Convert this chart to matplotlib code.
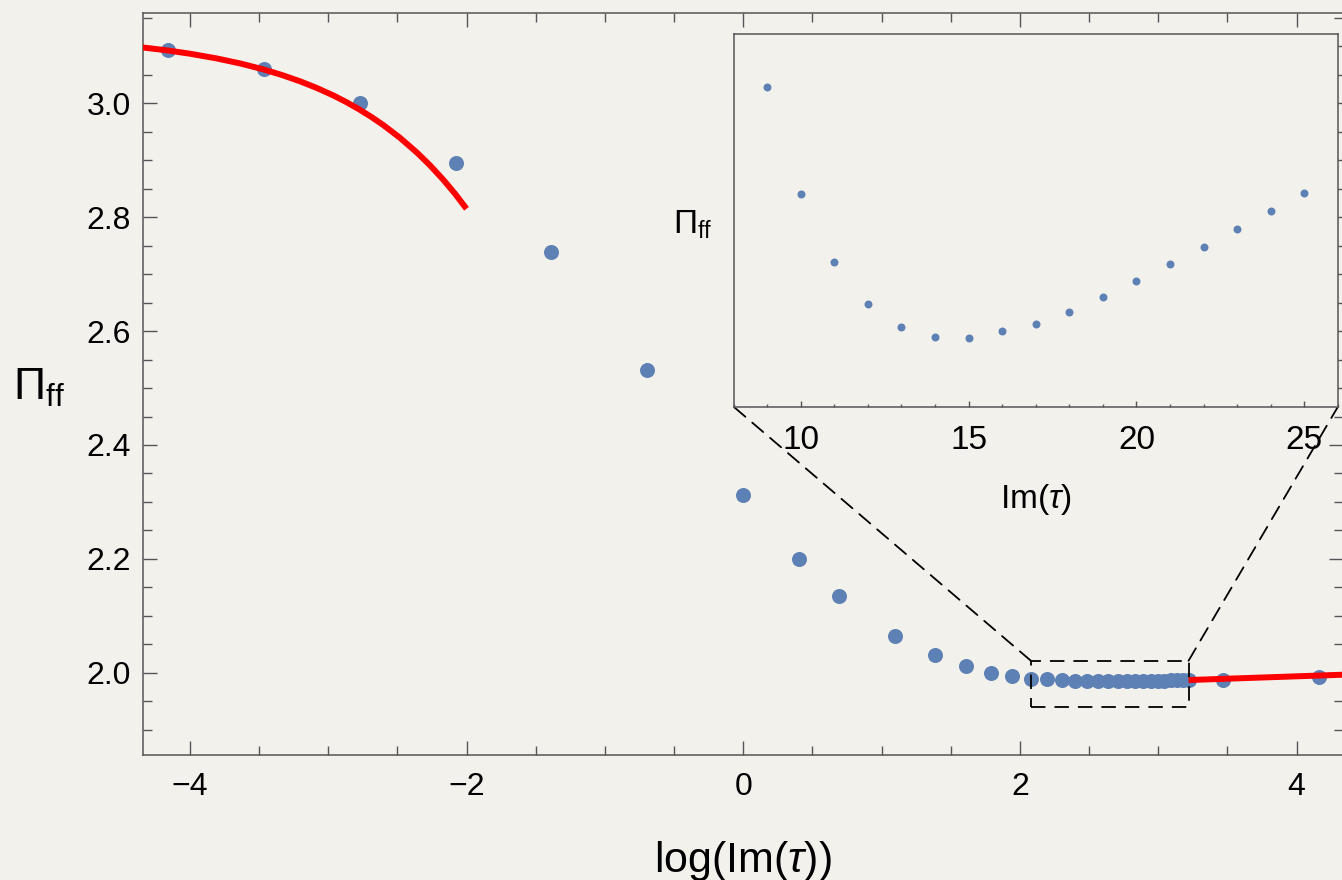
import numpy as np
import matplotlib
matplotlib.use('Agg')
import matplotlib.pyplot as plt
from matplotlib.patches import Rectangle, ConnectionPatch
from matplotlib.ticker import MultipleLocator

plt.rcParams['font.family'] = ['Liberation Sans', 'DejaVu Sans']
plt.rcParams['mathtext.fontset'] = 'custom'
plt.rcParams['mathtext.rm'] = 'Liberation Sans'
plt.rcParams['mathtext.it'] = 'Liberation Sans:italic'
plt.rcParams['mathtext.bf'] = 'Liberation Sans:bold'

# Pi_ff against Im(tau)
tau_small = [1/64, 1/32, 1/16, 1/8, 1/4, 1/2, 1, 1.5, 2, 3, 4, 5, 6, 7, 8]
pi_small = [3.094, 3.060, 3.000, 2.896, 2.739, 2.532, 2.312, 2.200, 2.135,
            2.064, 2.031, 2.012, 1.999, 1.994, 1.9895]

tau_mid = [9, 10, 11, 12, 13, 14, 15, 16, 17, 18, 19, 20, 21, 22, 23, 24, 25]
pi_mid = [1.98916, 1.98742, 1.98633, 1.98566, 1.98529, 1.98512, 1.98510,
          1.98522, 1.98533, 1.98553, 1.98577, 1.98603, 1.98630, 1.98658,
          1.98686, 1.98715, 1.98744]

tau_large = [32, 64]
pi_large = [1.987, 1.993]

# red asymptotic curves (log(Im tau), Pi_ff)
fit_small_x = [-4.34, -4.167, -4.0, -3.806, -3.635, -3.469, -3.331, -3.203,
               -3.085, -2.962, -2.868, -2.776, -2.690, -2.601, -2.480,
               -2.359, -2.263, -2.167, -2.082, -2.0]
fit_small_y = [3.0981, 3.0931, 3.0872, 3.0789, 3.0700, 3.0597, 3.0495,
               3.0387, 3.0273, 3.0138, 3.0021, 2.9895, 2.9765, 2.9618,
               2.9393, 2.9137, 2.8909, 2.8656, 2.8410, 2.8148]
fit_large_x = [np.log(25), 4.34]
fit_large_y = [1.9872, 1.9966]

# zoom box
box_tau = (8, 25)
box_pi = (1.9403, 2.0211)

bg = '#f3f1ec'
dot = '#5e81b5'
spine = '#555555'

fig = plt.figure(figsize=(13.42, 8.8), dpi=100, facecolor=bg)
ax = fig.add_axes([0.1068, 0.1420, 0.8940, 0.8428])
ax.set_facecolor(bg)

all_tau = tau_small + tau_mid + tau_large
all_pi = pi_small + pi_mid + pi_large
ax.scatter(np.log(all_tau), all_pi, s=117, color=dot, lw=0, zorder=3)
ax.plot(fit_small_x, fit_small_y, color='red', lw=4.3,
        solid_capstyle='butt', solid_joinstyle='round', zorder=4)
ax.plot(fit_large_x, fit_large_y, color='red', lw=4.3,
        solid_capstyle='butt', zorder=4)

bx0, bx1 = np.log(box_tau[0]), np.log(box_tau[1])
ax.add_patch(Rectangle((bx0, box_pi[0]), bx1 - bx0, box_pi[1] - box_pi[0],
                       fill=False, ec='black', lw=1.3, ls=(0, (8, 5)), zorder=5))

ax.set_xlim(-4.336, 4.336)
ax.set_ylim(1.8555, 3.158)
ax.xaxis.set_major_locator(MultipleLocator(2))
ax.xaxis.set_minor_locator(MultipleLocator(0.5))
ax.yaxis.set_major_locator(MultipleLocator(0.2))
ax.yaxis.set_minor_locator(MultipleLocator(0.05))
ax.yaxis.set_major_formatter(lambda v, p: f'{v:.1f}')
ax.tick_params(which='both', direction='in', top=True, right=True,
               color=spine, width=1.0, labelsize=23)
ax.tick_params(which='major', length=10)
ax.tick_params(which='minor', length=6.5)
ax.tick_params(axis='y', pad=9)
ax.tick_params(axis='x', pad=12.5)
for s in ax.spines.values():
    s.set_color(spine)
    s.set_linewidth(1.1)

ax.set_xlabel(r'log(Im($\tau$))', fontsize=31, labelpad=26)
ax.set_ylabel(r'$\mathrm{\Pi}_{\mathrm{ff}}$', fontsize=32, rotation=0,
              ha='center', va='center')
ax.yaxis.set_label_coords(-0.087, 0.495)

# inset
axins = fig.add_axes([0.5466, 0.5379, 0.4504, 0.4230])
axins.set_facecolor(bg)
axins.scatter(tau_mid, pi_mid, s=33, color=dot, lw=0, zorder=3)
axins.set_xlim(8, 26)
axins.set_ylim(1.984, 1.990)
axins.xaxis.set_major_locator(MultipleLocator(5))
axins.xaxis.set_minor_locator(MultipleLocator(1))
axins.set_yticks([])
axins.tick_params(which='both', direction='in', color=spine, width=1.0,
                  labelsize=24, pad=13)
axins.tick_params(which='major', length=4.3)
axins.tick_params(which='minor', length=2.4)
for s in axins.spines.values():
    s.set_color(spine)
    s.set_linewidth(1.1)
axins.set_xlabel(r'Im($\tau$)', fontsize=24, labelpad=19)
axins.set_ylabel(r'$\mathrm{\Pi}_{\mathrm{ff}}$', fontsize=24, rotation=0,
                 ha='center', va='center')
axins.yaxis.set_label_coords(-0.067, 0.489)

# dashed connectors from box to inset corners
for xa, xb in [(bx0, 0), (bx1, 1)]:
    con = ConnectionPatch(xyA=(xa, box_pi[1]), coordsA=ax.transData,
                          xyB=(xb, 0), coordsB=axins.transAxes,
                          color='black', lw=1.3, ls=(0, (8, 5)))
    ax.add_artist(con)

fig.savefig('out.png', dpi=100, facecolor=bg)
